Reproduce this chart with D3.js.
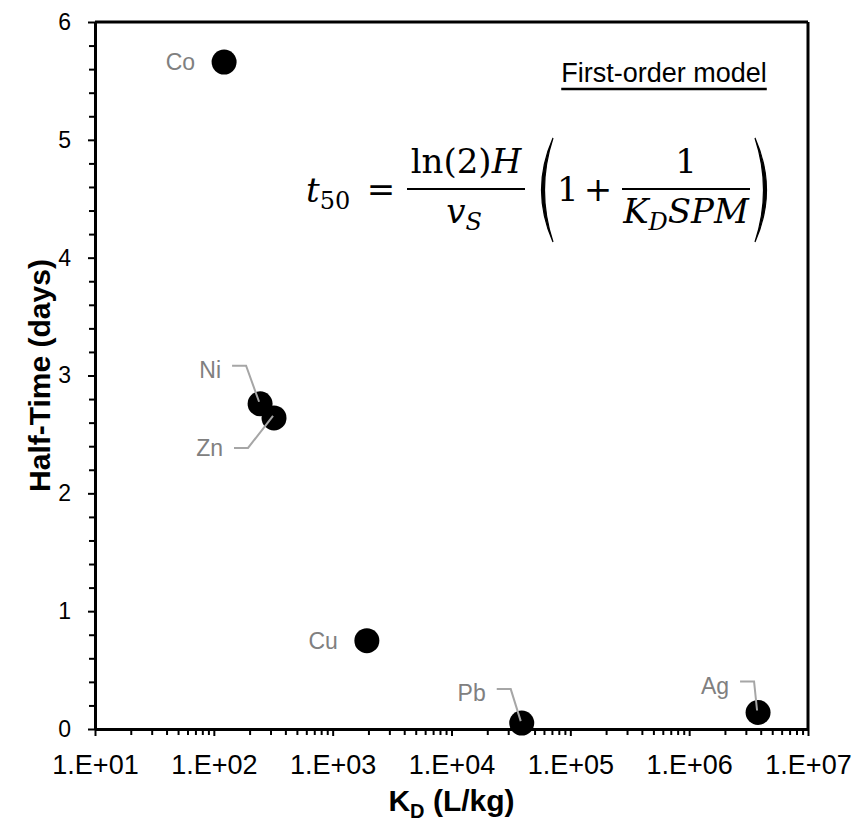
<!DOCTYPE html>
<html>
<head>
<meta charset="utf-8">
<script src="https://cdn.jsdelivr.net/npm/d3@7"></script>
<style>
  body { margin: 0; background: #fff; }
  svg { display: block; }
</style>
</head>
<body>
<div id="chart"></div>
<script>
// Data
const elements = ["Co", "Ni", "Zn", "Cu", "Pb", "Ag"];
const kd = [122, 245, 321, 1940, 39000, 3.8e6];
const halfTime = [5.66, 2.76, 2.64, 0.75, 0.05, 0.14];

const xTickValues = [1e1, 1e2, 1e3, 1e4, 1e5, 1e6, 1e7];
const xTickLabels = ["1.E+01", "1.E+02", "1.E+03", "1.E+04", "1.E+05", "1.E+06", "1.E+07"];
const yTickValues = [0, 1, 2, 3, 4, 5, 6];

// label placement (pixel offsets from the point, and whether a leader line is drawn)
const labelLayout = [
    { dx: -29, dy: 0, leader: false },
    { dx: -39, dy: -34, leader: true },
    { dx: -51, dy: 30, leader: true },
    { dx: -29, dy: 0, leader: false },
    { dx: -36, dy: -30, leader: true },
    { dx: -29, dy: -27, leader: true }
];

const points = elements.map((e, i) => ({ name: e, kd: kd[i], t: halfTime[i], lay: labelLayout[i] }));

const W = 858, H = 823;
const margin = { top: 22, right: 50, bottom: 94, left: 95 };
const width = W - margin.left - margin.right;
const height = H - margin.top - margin.bottom;

const svg = d3.select("#chart").append("svg")
    .attr("width", W)
    .attr("height", H);

const g = svg.append("g")
    .attr("transform", `translate(${margin.left},${margin.top})`);

const x = d3.scaleLog().domain([10, 1e7]).range([0, width]);
const y = d3.scaleLinear().domain([0, 6]).range([height, 0]);

// minor ticks
const xMinor = [];
xTickValues.slice(0, -1).forEach(d => { for (let k = 2; k <= 9; k++) xMinor.push(d * k); });
const yMinor = d3.range(0, 6.001, 0.2).filter(v => Math.abs(v - Math.round(v)) > 1e-6);

g.append("g")
    .attr("transform", `translate(0,${height})`)
    .call(d3.axisBottom(x).tickValues(xMinor).tickSize(6).tickFormat(""))
    .call(a => a.select(".domain").remove())
    .call(a => a.selectAll("line").attr("stroke", "#000").attr("stroke-width", 2));

g.append("g")
    .call(d3.axisLeft(y).tickValues(yMinor).tickSize(6).tickFormat(""))
    .call(a => a.select(".domain").remove())
    .call(a => a.selectAll("line").attr("stroke", "#000").attr("stroke-width", 2));

const xAxis = g.append("g")
    .attr("transform", `translate(0,${height})`)
    .call(d3.axisBottom(x).tickValues(xTickValues).tickSize(7).tickSizeOuter(0)
        .tickFormat((d, i) => xTickLabels[i]));
xAxis.select(".domain").attr("stroke-width", 3);
xAxis.selectAll("line").attr("stroke-width", 2);
xAxis.selectAll("text")
    .attr("y", 26)
    .attr("dy", "0.71em")
    .style("font-family", "'Liberation Sans', Arial, sans-serif")
    .style("font-size", "27px")
    .attr("fill", "#000");

const yAxis = g.append("g")
    .call(d3.axisLeft(y).tickValues(yTickValues).tickSize(7).tickSizeOuter(0).tickFormat(d3.format("d")));
yAxis.select(".domain").attr("stroke-width", 3);
yAxis.selectAll("line").attr("stroke-width", 2);
yAxis.selectAll("text")
    .attr("x", -24)
    .style("font-family", "'Liberation Sans', Arial, sans-serif")
    .style("font-size", "23px")
    .attr("fill", "#000");

// box top & right
g.append("line").attr("x1", 0).attr("x2", width).attr("y1", 0).attr("y2", 0)
    .attr("stroke", "#000").attr("stroke-width", 3);
g.append("line").attr("x1", width).attr("x2", width).attr("y1", 0).attr("y2", height)
    .attr("stroke", "#000").attr("stroke-width", 3);

// axis titles
g.append("text")
    .attr("transform", "rotate(-90)")
    .attr("x", -height / 2)
    .attr("y", -45)
    .attr("text-anchor", "middle")
    .style("font-family", "'Liberation Sans', Arial, sans-serif")
    .style("font-size", "30px")
    .style("font-weight", "bold")
    .text("Half-Time (days)");

const xt = g.append("text")
    .attr("x", width / 2)
    .attr("y", height + 82)
    .attr("text-anchor", "middle")
    .style("font-family", "'Liberation Sans', Arial, sans-serif")
    .style("font-size", "30px")
    .style("font-weight", "bold");
xt.append("tspan").text("K");
xt.append("tspan").attr("dy", 7).style("font-size", "20px").text("D");
xt.append("tspan").attr("dy", -7).text(" (L/kg)");

// points
g.selectAll(".pt")
    .data(points)
    .enter()
    .append("circle")
    .attr("class", "pt")
    .attr("cx", d => x(d.kd))
    .attr("cy", d => y(d.t))
    .attr("r", 12.5)
    .attr("fill", "#000");

// leader lines
g.selectAll(".leader")
    .data(points.filter(d => d.lay.leader))
    .enter()
    .append("path")
    .attr("class", "leader")
    .attr("fill", "none")
    .attr("stroke", "#a6a6a6")
    .attr("stroke-width", 2)
    .attr("d", d => {
        const px = x(d.kd), py = y(d.t);
        const tx = px + d.lay.dx, ty = py + d.lay.dy;
        const up = d.lay.dy < 0 ? -4 : 0;
        return `M${tx + 11},${ty + up}H${tx + 25}L${px - 1},${py - 2}`;
    });

// point labels
g.selectAll(".lbl")
    .data(points)
    .enter()
    .append("text")
    .attr("class", "lbl")
    .attr("x", d => x(d.kd) + d.lay.dx)
    .attr("y", d => y(d.t) + d.lay.dy)
    .attr("dy", "0.35em")
    .attr("text-anchor", "end")
    .style("font-family", "'Liberation Sans', Arial, sans-serif")
    .style("font-size", "23px")
    .attr("fill", "#808080")
    .text(d => d.name);

// model title
const title = svg.append("text")
    .attr("x", 664)
    .attr("y", 82)
    .attr("text-anchor", "middle")
    .style("font-family", "'Liberation Sans', Arial, sans-serif")
    .style("font-size", "27px")
    .text("First-order model");
const tw = title.node().getComputedTextLength();
svg.append("line")
    .attr("x1", 664 - tw / 2).attr("x2", 664 + tw / 2)
    .attr("y1", 89).attr("y2", 89)
    .attr("stroke", "#000").attr("stroke-width", 2.5);

// formula
const fm = svg.append("g")
    .style("font-family", "'DejaVu Serif', 'Liberation Serif', serif")
    .style("font-size", "34px")
    .attr("fill", "#000");

const t50 = fm.append("text").attr("x", 306).attr("y", 202);
t50.append("tspan").style("font-style", "italic").text("t");
t50.append("tspan").attr("dy", 7).style("font-size", "24px").text("50");

fm.append("text").attr("x", 381).attr("y", 201).attr("text-anchor", "middle").text("=");

const num1 = fm.append("text").attr("x", 466).attr("y", 173).attr("text-anchor", "middle");
num1.append("tspan").text("ln(2)");
num1.append("tspan").style("font-style", "italic").text("H");
fm.append("line").attr("x1", 407).attr("x2", 525).attr("y1", 189).attr("y2", 189)
    .attr("stroke", "#000").attr("stroke-width", 2);
const den1 = fm.append("text").attr("x", 464).attr("y", 223).attr("text-anchor", "middle");
den1.append("tspan").style("font-style", "italic").text("v");
den1.append("tspan").attr("dy", 7).style("font-size", "24px").style("font-style", "italic").text("S");

// big parentheses
fm.append("path")
    .attr("d", "M553,138 Q530,190 553,242 Q536,190 553,138 Z")
    .attr("fill", "#000").attr("stroke", "#000").attr("stroke-width", 1.2);
fm.append("path")
    .attr("d", "M755,138 Q778,190 755,242 Q772,190 755,138 Z")
    .attr("fill", "#000").attr("stroke", "#000").attr("stroke-width", 1.2);

fm.append("text").attr("x", 557).attr("y", 201).text("1");
fm.append("text").attr("x", 598).attr("y", 201).attr("text-anchor", "middle").text("+");

fm.append("text").attr("x", 686).attr("y", 173).attr("text-anchor", "middle").text("1");
fm.append("line").attr("x1", 622).attr("x2", 750).attr("y1", 189).attr("y2", 189)
    .attr("stroke", "#000").attr("stroke-width", 2);
const den2 = fm.append("text").attr("x", 686).attr("y", 223).attr("text-anchor", "middle")
    .style("font-style", "italic");
den2.append("tspan").text("K");
den2.append("tspan").attr("dy", 7).style("font-size", "24px").text("D");
den2.append("tspan").attr("dy", -7).text("SPM");
</script>
</body>
</html>
